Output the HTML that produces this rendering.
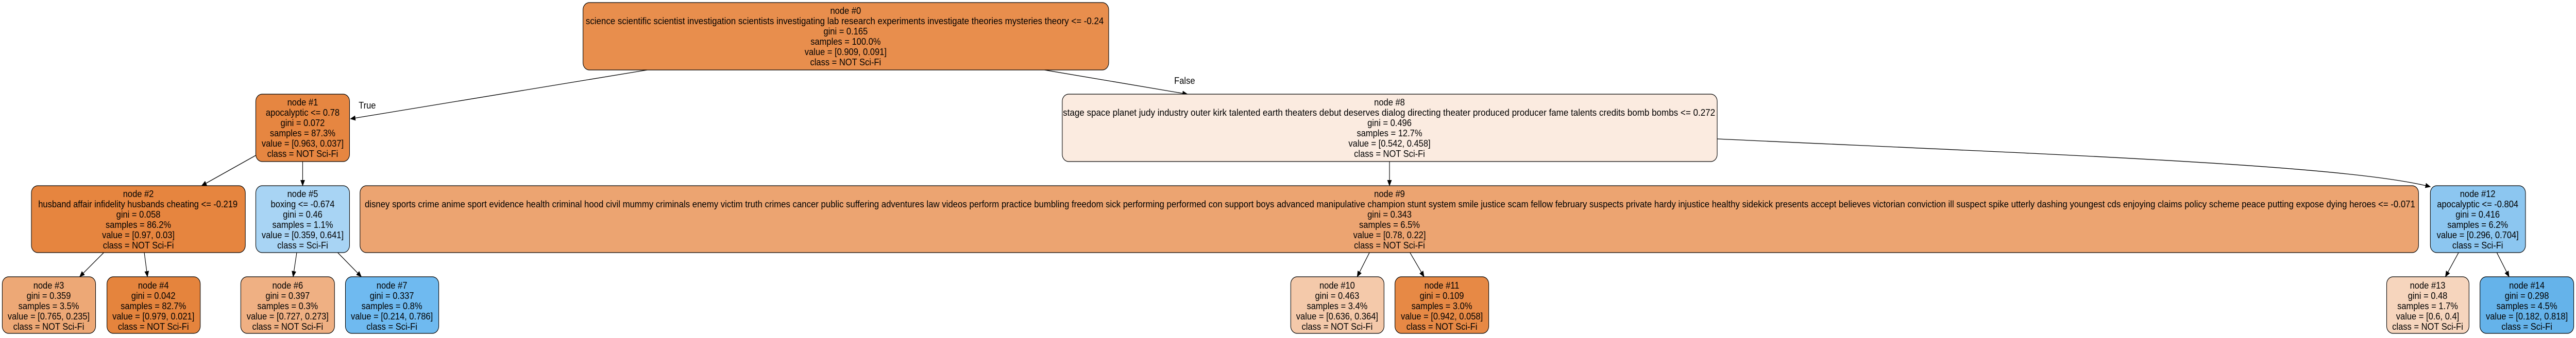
<!DOCTYPE html>
<html><head><meta charset="utf-8"><style>
html,body{margin:0;padding:0;background:#fff;width:100%;height:100%;overflow:hidden;}
svg{display:block;width:100vw;height:100vh;}
text{font-family:"Liberation Sans",Arial,sans-serif;font-size:18.7px;fill:#000;}
</style></head><body>
<svg viewBox="0 0 5660 657" preserveAspectRatio="none" xmlns="http://www.w3.org/2000/svg" overflow="hidden">
<defs><marker id="a" markerWidth="12" markerHeight="10" refX="11" refY="5" orient="auto" markerUnits="userSpaceOnUse"><path d="M0,0 L12,5 L0,10 z" fill="#000"/></marker></defs>
<g stroke="#000" stroke-width="1.3" fill="none" marker-end="url(#a)">
<path d="M1422,136 L770,231"/>
<path d="M2295,136 L2609,183"/>
<path d="M562,302 L443,361"/>
<path d="M665,314 L665,361"/>
<path d="M228,491 L175,538"/>
<path d="M317,491 L324,538"/>
<path d="M652,491 L644,538"/>
<path d="M742,491 L794,538"/>
<path d="M3053,314 L3053,361"/>
<path d="M3009,491 L2982,538"/>
<path d="M3098,491 L3129,538"/>
<path d="M3773,270 C4500,300 5150,320 5340,363"/>
<path d="M5402,491 L5373,538"/>
<path d="M5486,491 L5513,538"/>
</g>
<text x="788" y="211">True</text>
<text x="2580" y="163">False</text>
<g stroke="#000" stroke-width="1.2">
<rect x="1281" y="5" width="1155" height="131" rx="14" fill="#e88e4d"/>
<rect x="562" y="183" width="206" height="131" rx="14" fill="#e68641"/>
<rect x="69" y="361" width="470" height="130" rx="14" fill="#e6853f"/>
<rect x="5" y="538" width="205" height="110" rx="14" fill="#eda876"/>
<rect x="235" y="538" width="205" height="110" rx="14" fill="#e5843d"/>
<rect x="562" y="361" width="206" height="130" rx="14" fill="#a8d4f4"/>
<rect x="529" y="538" width="206" height="110" rx="14" fill="#efb083"/>
<rect x="759" y="538" width="205" height="110" rx="14" fill="#6fbaf0"/>
<rect x="2334" y="183" width="1439" height="131" rx="14" fill="#fbebe0"/>
<rect x="791" y="361" width="4523" height="130" rx="14" fill="#eca471"/>
<rect x="2836" y="538" width="205" height="110" rx="14" fill="#f4c9aa"/>
<rect x="3065" y="538" width="206" height="110" rx="14" fill="#e78945"/>
<rect x="5340" y="361" width="209" height="130" rx="14" fill="#8cc6f0"/>
<rect x="5244" y="538" width="181" height="110" rx="14" fill="#f6d5bd"/>
<rect x="5449" y="538" width="206" height="110" rx="14" fill="#65b3ea"/>
</g>
<g text-anchor="middle">
<text x="1858" y="27">node #0</text>
<text transform="translate(1856,47) scale(0.85,1)" x="0" y="0" textLength="1339" lengthAdjust="spacingAndGlyphs">science scientific scientist investigation scientists investigating lab research experiments investigate theories mysteries theory  &lt;= -0.24</text>
<text x="1858" y="67">gini = 0.165</text>
<text x="1858" y="87">samples = 100.0%</text>
<text x="1858" y="107">value = [0.909, 0.091]</text>
<text x="1858" y="127">class = NOT Sci-Fi</text>
<text x="665" y="205">node #1</text>
<text x="665" y="225">apocalyptic  &lt;= 0.78</text>
<text x="665" y="245">gini = 0.072</text>
<text x="665" y="265">samples = 87.3%</text>
<text x="665" y="285">value = [0.963, 0.037]</text>
<text x="665" y="305">class = NOT Sci-Fi</text>
<text x="304" y="383">node #2</text>
<text x="303" y="403">husband affair infidelity husbands cheating  &lt;= -0.219</text>
<text x="304" y="423">gini = 0.058</text>
<text x="304" y="443">samples = 86.2%</text>
<text x="304" y="463">value = [0.97, 0.03]</text>
<text x="304" y="483">class = NOT Sci-Fi</text>
<text x="665" y="383">node #5</text>
<text x="665" y="403">boxing  &lt;= -0.674</text>
<text x="665" y="423">gini = 0.46</text>
<text x="665" y="443">samples = 1.1%</text>
<text x="665" y="463">value = [0.359, 0.641]</text>
<text x="665" y="483">class = Sci-Fi</text>
<text x="107" y="561">node #3</text>
<text x="107" y="581">gini = 0.359</text>
<text x="107" y="601">samples = 3.5%</text>
<text x="107" y="621">value = [0.765, 0.235]</text>
<text x="107" y="641">class = NOT Sci-Fi</text>
<text x="337" y="561">node #4</text>
<text x="337" y="581">gini = 0.042</text>
<text x="337" y="601">samples = 82.7%</text>
<text x="337" y="621">value = [0.979, 0.021]</text>
<text x="337" y="641">class = NOT Sci-Fi</text>
<text x="632" y="561">node #6</text>
<text x="632" y="581">gini = 0.397</text>
<text x="632" y="601">samples = 0.3%</text>
<text x="632" y="621">value = [0.727, 0.273]</text>
<text x="632" y="641">class = NOT Sci-Fi</text>
<text x="861" y="561">node #7</text>
<text x="861" y="581">gini = 0.337</text>
<text x="861" y="601">samples = 0.8%</text>
<text x="861" y="621">value = [0.214, 0.786]</text>
<text x="861" y="641">class = Sci-Fi</text>
<text x="3053" y="205">node #8</text>
<text transform="translate(3052,225) scale(0.85,1)" x="0" y="0" textLength="1686" lengthAdjust="spacingAndGlyphs">stage space planet judy industry outer kirk talented earth theaters debut deserves dialog directing theater produced producer fame talents credits bomb bombs  &lt;= 0.272</text>
<text x="3053" y="245">gini = 0.496</text>
<text x="3053" y="265">samples = 12.7%</text>
<text x="3053" y="285">value = [0.542, 0.458]</text>
<text x="3053" y="305">class = NOT Sci-Fi</text>
<text x="3053" y="383">node #9</text>
<text transform="translate(3054,403) scale(0.75,1)" x="0" y="0" textLength="6007" lengthAdjust="spacingAndGlyphs">disney sports crime anime sport evidence health criminal hood civil mummy criminals enemy victim truth crimes cancer public suffering adventures law videos perform practice bumbling freedom sick performing performed con support boys advanced manipulative champion stunt system smile justice scam fellow february suspects private hardy injustice healthy sidekick presents accept believes victorian conviction ill suspect spike utterly dashing youngest cds enjoying claims policy scheme peace putting expose dying heroes  &lt;= -0.071</text>
<text x="3053" y="423">gini = 0.343</text>
<text x="3053" y="443">samples = 6.5%</text>
<text x="3053" y="463">value = [0.78, 0.22]</text>
<text x="3053" y="483">class = NOT Sci-Fi</text>
<text x="2938" y="561">node #10</text>
<text x="2938" y="581">gini = 0.463</text>
<text x="2938" y="601">samples = 3.4%</text>
<text x="2938" y="621">value = [0.636, 0.364]</text>
<text x="2938" y="641">class = NOT Sci-Fi</text>
<text x="3168" y="561">node #11</text>
<text x="3168" y="581">gini = 0.109</text>
<text x="3168" y="601">samples = 3.0%</text>
<text x="3168" y="621">value = [0.942, 0.058]</text>
<text x="3168" y="641">class = NOT Sci-Fi</text>
<text x="5444" y="383">node #12</text>
<text x="5444" y="403">apocalyptic  &lt;= -0.804</text>
<text x="5444" y="423">gini = 0.416</text>
<text x="5444" y="443">samples = 6.2%</text>
<text x="5444" y="463">value = [0.296, 0.704]</text>
<text x="5444" y="483">class = Sci-Fi</text>
<text x="5334" y="561">node #13</text>
<text x="5334" y="581">gini = 0.48</text>
<text x="5334" y="601">samples = 1.7%</text>
<text x="5334" y="621">value = [0.6, 0.4]</text>
<text x="5334" y="641">class = NOT Sci-Fi</text>
<text x="5552" y="561">node #14</text>
<text x="5552" y="581">gini = 0.298</text>
<text x="5552" y="601">samples = 4.5%</text>
<text x="5552" y="621">value = [0.182, 0.818]</text>
<text x="5552" y="641">class = Sci-Fi</text>
</g>
</svg>
</body></html>
